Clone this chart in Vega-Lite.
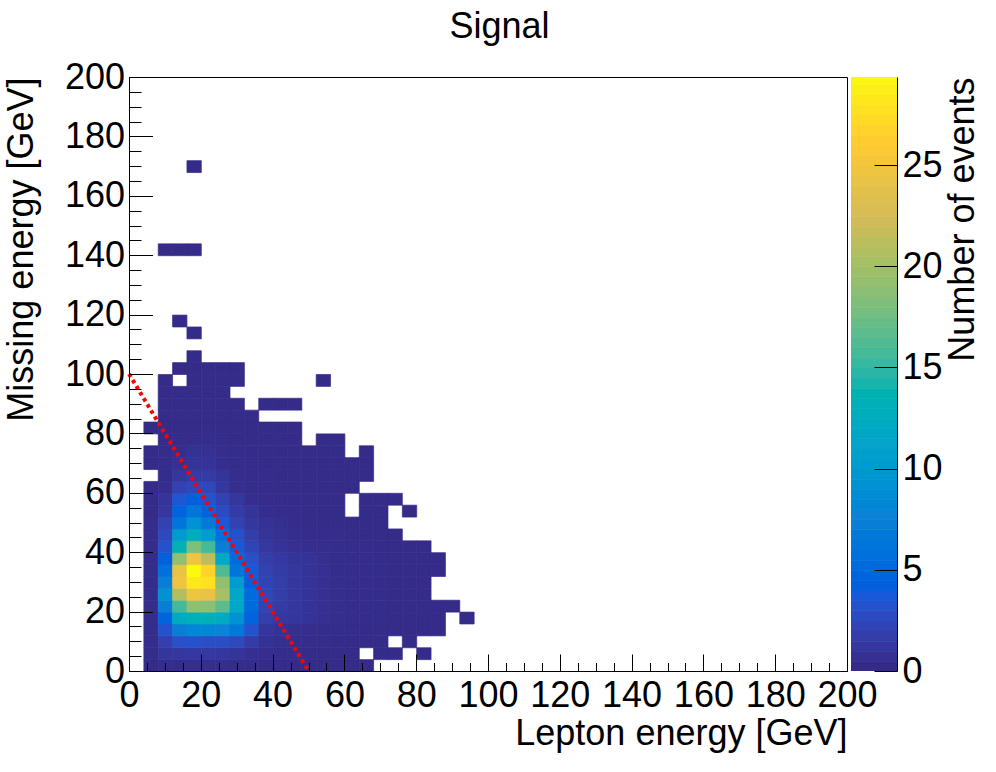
{"$schema":"https://vega.github.io/schema/vega-lite/v6.json","background":"white","padding":{"left":2,"top":8,"right":5,"bottom":5},"bounds":"flush","title":{"text":"Signal","font":"Liberation Sans","fontSize":36,"fontWeight":"normal","color":"black","anchor":"middle","dx":8,"offset":13},"config":{"view":{"stroke":null},"axis":{"labelFont":"Liberation Sans","titleFont":"Liberation Sans","labelFontSize":36,"titleFontSize":36,"titleFontWeight":"normal","labelColor":"black","titleColor":"black","domainColor":"black","tickColor":"black","grid":false,"labelOverlap":false,"labelBound":false,"labelFlush":false}},"spacing":4,"hconcat":[{"width":718,"height":594,"view":{"stroke":"black","strokeWidth":1},"layer":[{"data":{"values":[
{"x":4,"y":0,"n":0.1},{"x":8,"y":0,"n":0.2},{"x":12,"y":0,"n":0.2},{"x":16,"y":0,"n":0.3},{"x":20,"y":0,"n":0.3},{"x":24,"y":0,"n":0.3},{"x":28,"y":0,"n":0.2},{"x":32,"y":0,"n":0.2},{"x":36,"y":0,"n":0.1},{"x":40,"y":0,"n":0.1},{"x":44,"y":0,"n":0.1},{"x":48,"y":0,"n":0.1},{"x":52,"y":0,"n":0.1},{"x":56,"y":0,"n":0.1},{"x":60,"y":0,"n":0.1},{"x":64,"y":0,"n":0.1},
{"x":4,"y":4,"n":0.2},{"x":8,"y":4,"n":0.9},{"x":12,"y":4,"n":1},{"x":16,"y":4,"n":1.1},{"x":20,"y":4,"n":1.1},{"x":24,"y":4,"n":1},{"x":28,"y":4,"n":0.8},{"x":32,"y":4,"n":0.4},{"x":36,"y":4,"n":0.3},{"x":40,"y":4,"n":0.2},{"x":44,"y":4,"n":0.2},{"x":48,"y":4,"n":0.1},{"x":52,"y":4,"n":0.1},{"x":56,"y":4,"n":0.1},{"x":60,"y":4,"n":0.1},{"x":68,"y":4,"n":0.1},{"x":72,"y":4,"n":0.1},{"x":80,"y":4,"n":0.1},
{"x":4,"y":8,"n":0.2},{"x":8,"y":8,"n":1.6},{"x":12,"y":8,"n":2.8},{"x":16,"y":8,"n":3},{"x":20,"y":8,"n":2.7},{"x":24,"y":8,"n":2.7},{"x":28,"y":8,"n":2.3},{"x":32,"y":8,"n":1.3},{"x":36,"y":8,"n":0.6},{"x":40,"y":8,"n":0.4},{"x":44,"y":8,"n":0.3},{"x":48,"y":8,"n":0.2},{"x":52,"y":8,"n":0.2},{"x":56,"y":8,"n":0.1},{"x":60,"y":8,"n":0.1},{"x":64,"y":8,"n":0.1},{"x":68,"y":8,"n":0.1},{"x":76,"y":8,"n":0.1},
{"x":4,"y":12,"n":0.2},{"x":8,"y":12,"n":3},{"x":12,"y":12,"n":7},{"x":16,"y":12,"n":8},{"x":20,"y":12,"n":8},{"x":24,"y":12,"n":7.5},{"x":28,"y":12,"n":6.5},{"x":32,"y":12,"n":3},{"x":36,"y":12,"n":0.9},{"x":40,"y":12,"n":0.6},{"x":44,"y":12,"n":0.4},{"x":48,"y":12,"n":0.3},{"x":52,"y":12,"n":0.2},{"x":56,"y":12,"n":0.2},{"x":60,"y":12,"n":0.2},{"x":64,"y":12,"n":0.1},{"x":68,"y":12,"n":0.1},{"x":72,"y":12,"n":0.1},{"x":76,"y":12,"n":0.1},{"x":80,"y":12,"n":0.1},{"x":84,"y":12,"n":0.1},
{"x":4,"y":16,"n":0.2},{"x":8,"y":16,"n":4.5},{"x":12,"y":16,"n":12},{"x":16,"y":16,"n":13},{"x":20,"y":16,"n":13},{"x":24,"y":16,"n":12},{"x":28,"y":16,"n":9},{"x":32,"y":16,"n":4.5},{"x":36,"y":16,"n":1.6},{"x":40,"y":16,"n":1.1},{"x":44,"y":16,"n":0.9},{"x":48,"y":16,"n":0.7},{"x":52,"y":16,"n":0.5},{"x":56,"y":16,"n":0.3},{"x":60,"y":16,"n":0.2},{"x":64,"y":16,"n":0.2},{"x":68,"y":16,"n":0.2},{"x":72,"y":16,"n":0.1},{"x":76,"y":16,"n":0.1},{"x":80,"y":16,"n":0.1},{"x":84,"y":16,"n":0.1},{"x":92,"y":16,"n":0.1},
{"x":4,"y":20,"n":0.2},{"x":8,"y":20,"n":7},{"x":12,"y":20,"n":15.5},{"x":16,"y":20,"n":18.8},{"x":20,"y":20,"n":18.5},{"x":24,"y":20,"n":16.5},{"x":28,"y":20,"n":11.5},{"x":32,"y":20,"n":5},{"x":36,"y":20,"n":2},{"x":40,"y":20,"n":1.3},{"x":44,"y":20,"n":1},{"x":48,"y":20,"n":0.7},{"x":52,"y":20,"n":0.5},{"x":56,"y":20,"n":0.3},{"x":60,"y":20,"n":0.2},{"x":64,"y":20,"n":0.2},{"x":68,"y":20,"n":0.2},{"x":72,"y":20,"n":0.1},{"x":76,"y":20,"n":0.1},{"x":80,"y":20,"n":0.1},{"x":84,"y":20,"n":0.1},{"x":88,"y":20,"n":0.1},
{"x":4,"y":24,"n":0.2},{"x":8,"y":24,"n":9},{"x":12,"y":24,"n":20.5},{"x":16,"y":24,"n":24.5},{"x":20,"y":24,"n":24},{"x":24,"y":24,"n":20},{"x":28,"y":24,"n":11.5},{"x":32,"y":24,"n":5},{"x":36,"y":24,"n":2.2},{"x":40,"y":24,"n":1.5},{"x":44,"y":24,"n":1},{"x":48,"y":24,"n":0.7},{"x":52,"y":24,"n":0.5},{"x":56,"y":24,"n":0.3},{"x":60,"y":24,"n":0.2},{"x":64,"y":24,"n":0.2},{"x":68,"y":24,"n":0.2},{"x":72,"y":24,"n":0.1},{"x":76,"y":24,"n":0.1},{"x":80,"y":24,"n":0.1},
{"x":4,"y":28,"n":0.2},{"x":8,"y":28,"n":7},{"x":12,"y":28,"n":24.5},{"x":16,"y":28,"n":28},{"x":20,"y":28,"n":27.5},{"x":24,"y":28,"n":19},{"x":28,"y":28,"n":10},{"x":32,"y":28,"n":4},{"x":36,"y":28,"n":2},{"x":40,"y":28,"n":1.5},{"x":44,"y":28,"n":1},{"x":48,"y":28,"n":0.7},{"x":52,"y":28,"n":0.5},{"x":56,"y":28,"n":0.3},{"x":60,"y":28,"n":0.2},{"x":64,"y":28,"n":0.2},{"x":68,"y":28,"n":0.2},{"x":72,"y":28,"n":0.1},{"x":76,"y":28,"n":0.1},{"x":80,"y":28,"n":0.1},
{"x":4,"y":32,"n":0.2},{"x":8,"y":32,"n":5.5},{"x":12,"y":32,"n":24},{"x":16,"y":32,"n":29.3},{"x":20,"y":32,"n":26.5},{"x":24,"y":32,"n":16},{"x":28,"y":32,"n":6},{"x":32,"y":32,"n":3.5},{"x":36,"y":32,"n":1.8},{"x":40,"y":32,"n":1.3},{"x":44,"y":32,"n":1},{"x":48,"y":32,"n":0.7},{"x":52,"y":32,"n":0.5},{"x":56,"y":32,"n":0.2},{"x":60,"y":32,"n":0.2},{"x":64,"y":32,"n":0.2},{"x":68,"y":32,"n":0.2},{"x":72,"y":32,"n":0.1},{"x":76,"y":32,"n":0.1},{"x":80,"y":32,"n":0.1},{"x":84,"y":32,"n":0.1},
{"x":4,"y":36,"n":0.2},{"x":8,"y":36,"n":4},{"x":12,"y":36,"n":19},{"x":16,"y":36,"n":24.5},{"x":20,"y":36,"n":21},{"x":24,"y":36,"n":11.5},{"x":28,"y":36,"n":5},{"x":32,"y":36,"n":2.8},{"x":36,"y":36,"n":1.5},{"x":40,"y":36,"n":1.1},{"x":44,"y":36,"n":0.8},{"x":48,"y":36,"n":0.7},{"x":52,"y":36,"n":0.4},{"x":56,"y":36,"n":0.2},{"x":60,"y":36,"n":0.2},{"x":64,"y":36,"n":0.2},{"x":68,"y":36,"n":0.2},{"x":72,"y":36,"n":0.1},{"x":76,"y":36,"n":0.1},{"x":80,"y":36,"n":0.1},{"x":84,"y":36,"n":0.1},
{"x":4,"y":40,"n":0.2},{"x":8,"y":40,"n":3},{"x":12,"y":40,"n":13.5},{"x":16,"y":40,"n":18},{"x":20,"y":40,"n":15.5},{"x":24,"y":40,"n":7},{"x":28,"y":40,"n":3.5},{"x":32,"y":40,"n":2},{"x":36,"y":40,"n":1.1},{"x":40,"y":40,"n":0.7},{"x":44,"y":40,"n":0.5},{"x":48,"y":40,"n":0.3},{"x":52,"y":40,"n":0.3},{"x":56,"y":40,"n":0.2},{"x":60,"y":40,"n":0.2},{"x":64,"y":40,"n":0.2},{"x":68,"y":40,"n":0.1},{"x":72,"y":40,"n":0.1},{"x":76,"y":40,"n":0.1},{"x":80,"y":40,"n":0.1},
{"x":4,"y":44,"n":0.2},{"x":8,"y":44,"n":2.3},{"x":12,"y":44,"n":10},{"x":16,"y":44,"n":12.5},{"x":20,"y":44,"n":10},{"x":24,"y":44,"n":5.5},{"x":28,"y":44,"n":2.8},{"x":32,"y":44,"n":1.5},{"x":36,"y":44,"n":0.8},{"x":40,"y":44,"n":0.5},{"x":44,"y":44,"n":0.3},{"x":48,"y":44,"n":0.2},{"x":52,"y":44,"n":0.2},{"x":56,"y":44,"n":0.2},{"x":60,"y":44,"n":0.1},{"x":64,"y":44,"n":0.1},{"x":68,"y":44,"n":0.1},{"x":72,"y":44,"n":0.1},
{"x":4,"y":48,"n":0.2},{"x":8,"y":48,"n":1.8},{"x":12,"y":48,"n":6},{"x":16,"y":48,"n":9},{"x":20,"y":48,"n":6.5},{"x":24,"y":48,"n":3.5},{"x":28,"y":48,"n":1.8},{"x":32,"y":48,"n":1},{"x":36,"y":48,"n":0.6},{"x":40,"y":48,"n":0.4},{"x":44,"y":48,"n":0.2},{"x":48,"y":48,"n":0.1},{"x":52,"y":48,"n":0.1},{"x":56,"y":48,"n":0.1},{"x":60,"y":48,"n":0.1},{"x":64,"y":48,"n":0.1},{"x":68,"y":48,"n":0.1},
{"x":4,"y":52,"n":0.1},{"x":8,"y":52,"n":1},{"x":12,"y":52,"n":4.5},{"x":16,"y":52,"n":6},{"x":20,"y":52,"n":4.5},{"x":24,"y":52,"n":2.5},{"x":28,"y":52,"n":1.3},{"x":32,"y":52,"n":0.8},{"x":36,"y":52,"n":0.3},{"x":40,"y":52,"n":0.2},{"x":44,"y":52,"n":0.2},{"x":48,"y":52,"n":0.1},{"x":52,"y":52,"n":0.1},{"x":56,"y":52,"n":0.1},{"x":64,"y":52,"n":0.1},{"x":68,"y":52,"n":0.1},{"x":76,"y":52,"n":0.1},
{"x":4,"y":56,"n":0.1},{"x":8,"y":56,"n":0.8},{"x":12,"y":56,"n":3.3},{"x":16,"y":56,"n":4},{"x":20,"y":56,"n":3},{"x":24,"y":56,"n":1.8},{"x":28,"y":56,"n":1},{"x":32,"y":56,"n":0.3},{"x":36,"y":56,"n":0.2},{"x":40,"y":56,"n":0.2},{"x":44,"y":56,"n":0.1},{"x":48,"y":56,"n":0.1},{"x":52,"y":56,"n":0.1},{"x":56,"y":56,"n":0.1},{"x":64,"y":56,"n":0.1},{"x":68,"y":56,"n":0.1},{"x":72,"y":56,"n":0.1},
{"x":4,"y":60,"n":0.1},{"x":8,"y":60,"n":0.3},{"x":12,"y":60,"n":1.8},{"x":16,"y":60,"n":2.2},{"x":20,"y":60,"n":2.2},{"x":24,"y":60,"n":1},{"x":28,"y":60,"n":0.4},{"x":32,"y":60,"n":0.2},{"x":36,"y":60,"n":0.2},{"x":40,"y":60,"n":0.1},{"x":44,"y":60,"n":0.1},{"x":48,"y":60,"n":0.1},{"x":52,"y":60,"n":0.1},{"x":56,"y":60,"n":0.1},{"x":60,"y":60,"n":0.1},
{"x":8,"y":64,"n":0.2},{"x":12,"y":64,"n":1},{"x":16,"y":64,"n":1.3},{"x":20,"y":64,"n":1.3},{"x":24,"y":64,"n":0.8},{"x":28,"y":64,"n":0.3},{"x":32,"y":64,"n":0.2},{"x":36,"y":64,"n":0.2},{"x":40,"y":64,"n":0.1},{"x":44,"y":64,"n":0.1},{"x":48,"y":64,"n":0.1},{"x":52,"y":64,"n":0.1},{"x":56,"y":64,"n":0.1},{"x":60,"y":64,"n":0.1},{"x":64,"y":64,"n":0.1},
{"x":4,"y":68,"n":0.1},{"x":8,"y":68,"n":0.2},{"x":12,"y":68,"n":0.5},{"x":16,"y":68,"n":0.8},{"x":20,"y":68,"n":0.7},{"x":24,"y":68,"n":0.3},{"x":28,"y":68,"n":0.2},{"x":32,"y":68,"n":0.2},{"x":36,"y":68,"n":0.1},{"x":40,"y":68,"n":0.1},{"x":44,"y":68,"n":0.1},{"x":48,"y":68,"n":0.1},{"x":52,"y":68,"n":0.1},{"x":56,"y":68,"n":0.1},{"x":60,"y":68,"n":0.1},{"x":64,"y":68,"n":0.1},
{"x":4,"y":72,"n":0.1},{"x":8,"y":72,"n":0.2},{"x":12,"y":72,"n":0.3},{"x":16,"y":72,"n":0.6},{"x":20,"y":72,"n":0.5},{"x":24,"y":72,"n":0.3},{"x":28,"y":72,"n":0.2},{"x":32,"y":72,"n":0.1},{"x":36,"y":72,"n":0.1},{"x":40,"y":72,"n":0.1},{"x":44,"y":72,"n":0.1},{"x":48,"y":72,"n":0.1},{"x":52,"y":72,"n":0.1},{"x":56,"y":72,"n":0.1},{"x":64,"y":72,"n":0.1},
{"x":8,"y":76,"n":0.1},{"x":12,"y":76,"n":0.2},{"x":16,"y":76,"n":0.2},{"x":20,"y":76,"n":0.2},{"x":24,"y":76,"n":0.2},{"x":28,"y":76,"n":0.1},{"x":32,"y":76,"n":0.1},{"x":36,"y":76,"n":0.1},{"x":40,"y":76,"n":0.1},{"x":44,"y":76,"n":0.1},{"x":52,"y":76,"n":0.1},{"x":56,"y":76,"n":0.1},
{"x":4,"y":80,"n":0.1},{"x":8,"y":80,"n":0.1},{"x":12,"y":80,"n":0.1},{"x":16,"y":80,"n":0.1},{"x":20,"y":80,"n":0.1},{"x":24,"y":80,"n":0.1},{"x":28,"y":80,"n":0.1},{"x":32,"y":80,"n":0.1},{"x":36,"y":80,"n":0.1},{"x":40,"y":80,"n":0.1},{"x":44,"y":80,"n":0.1},
{"x":8,"y":84,"n":0.1},{"x":12,"y":84,"n":0.1},{"x":16,"y":84,"n":0.1},{"x":20,"y":84,"n":0.1},{"x":24,"y":84,"n":0.1},{"x":28,"y":84,"n":0.1},{"x":32,"y":84,"n":0.1},
{"x":8,"y":88,"n":0.1},{"x":12,"y":88,"n":0.1},{"x":16,"y":88,"n":0.1},{"x":20,"y":88,"n":0.1},{"x":24,"y":88,"n":0.1},{"x":28,"y":88,"n":0.1},{"x":36,"y":88,"n":0.1},{"x":40,"y":88,"n":0.1},{"x":44,"y":88,"n":0.1},
{"x":8,"y":92,"n":0.1},{"x":12,"y":92,"n":0.1},{"x":16,"y":92,"n":0.1},{"x":20,"y":92,"n":0.1},{"x":24,"y":92,"n":0.1},
{"x":8,"y":96,"n":0.1},{"x":16,"y":96,"n":0.1},{"x":20,"y":96,"n":0.1},{"x":24,"y":96,"n":0.1},{"x":28,"y":96,"n":0.1},{"x":52,"y":96,"n":0.1},
{"x":12,"y":100,"n":0.1},{"x":16,"y":100,"n":0.1},{"x":20,"y":100,"n":0.1},{"x":24,"y":100,"n":0.1},{"x":28,"y":100,"n":0.1},
{"x":16,"y":104,"n":0.1},{"x":16,"y":112,"n":0.1},{"x":12,"y":116,"n":0.1},{"x":8,"y":140,"n":0.1},{"x":12,"y":140,"n":0.1},{"x":16,"y":140,"n":0.1},{"x":16,"y":168,"n":0.1}
]},"mark":{"type":"rect","binSpacing":0,"strokeWidth":0.7},"encoding":{"x":{"field":"x","type":"quantitative","bin":{"step":4,"extent":[0,200]},"scale":{"domain":[0,200],"nice":false,"zero":false},"axis":{"title":"Lepton energy [GeV]","titleAnchor":"end","titlePadding":-5,"values":[0,5,10,15,20,25,30,35,40,45,50,55,60,65,70,75,80,85,90,95,100,105,110,115,120,125,130,135,140,145,150,155,160,165,170,175,180,185,190,195,200],"labelExpr":"datum.value%20===0?datum.value:''","labelAngle":0,"labelPadding":24,"tickSize":{"condition":{"test":"datum.value%20===0","value":-17},"value":-8.5}}},"y":{"field":"y","type":"quantitative","bin":{"step":4,"extent":[0,200]},"scale":{"domain":[0,200],"nice":false,"zero":false},"axis":{"title":"Missing energy [GeV]","titleAnchor":"end","titlePadding":24,"values":[0,5,10,15,20,25,30,35,40,45,50,55,60,65,70,75,80,85,90,95,100,105,110,115,120,125,130,135,140,145,150,155,160,165,170,175,180,185,190,195,200],"labelExpr":"datum.value%20===0?datum.value:''","labelPadding":28,"tickSize":{"condition":{"test":"datum.value%20===0","value":-23.5},"value":-12}}},"color":{"field":"n","type":"quantitative","legend":null,"scale":{"domain":[0,3.66,7.33,11,14.67,18.33,22,25.67,29.35],"range":["#352A87","#0F5CDD","#1481D6","#06A4CA","#2EB7A4","#87BF77","#D1BB59","#FEC832","#F9FB0E"]}},"stroke":{"field":"n","type":"quantitative","legend":null,"scale":{"domain":[0,3.66,7.33,11,14.67,18.33,22,25.67,29.35],"range":["#352A87","#0F5CDD","#1481D6","#06A4CA","#2EB7A4","#87BF77","#D1BB59","#FEC832","#F9FB0E"]}}}},{"data":{"values":[{"ex":0,"ey":100},{"ex":50,"ey":0}]},"mark":{"type":"line","color":"#FF0000","strokeWidth":4,"strokeDash":[3.6,3.5]},"encoding":{"x":{"field":"ex","type":"quantitative"},"y":{"field":"ey","type":"quantitative"}}}]},{"width":46,"height":594,"data":{"values":[{"v":0},{"v":0.5},{"v":1},{"v":1.5},{"v":2},{"v":2.5},{"v":3},{"v":3.5},{"v":4},{"v":4.5},{"v":5},{"v":5.5},{"v":6},{"v":6.5},{"v":7},{"v":7.5},{"v":8},{"v":8.5},{"v":9},{"v":9.5},{"v":10},{"v":10.5},{"v":11},{"v":11.5},{"v":12},{"v":12.5},{"v":13},{"v":13.5},{"v":14},{"v":14.5},{"v":15},{"v":15.5},{"v":16},{"v":16.5},{"v":17},{"v":17.5},{"v":18},{"v":18.5},{"v":19},{"v":19.5},{"v":20},{"v":20.5},{"v":21},{"v":21.5},{"v":22},{"v":22.5},{"v":23},{"v":23.5},{"v":24},{"v":24.5},{"v":25},{"v":25.5},{"v":26},{"v":26.5},{"v":27},{"v":27.5},{"v":28},{"v":28.5},{"v":29}]},"mark":{"type":"rect","binSpacing":0,"clip":true,"strokeWidth":0.7},"encoding":{"y":{"field":"v","type":"quantitative","bin":{"step":0.5,"extent":[0,29.5]},"scale":{"domain":[0,29.35],"nice":false,"zero":false},"axis":{"orient":"right","title":"Number of events","titleAngle":270,"titleAnchor":"end","titlePadding":39,"values":[0,5,10,15,20,25],"format":"d","labelPadding":28,"tickSize":-23}},"color":{"field":"v","type":"quantitative","legend":null,"scale":{"domain":[0,3.66,7.33,11,14.67,18.33,22,25.67,29.35],"range":["#352A87","#0F5CDD","#1481D6","#06A4CA","#2EB7A4","#87BF77","#D1BB59","#FEC832","#F9FB0E"]}},"stroke":{"field":"v","type":"quantitative","legend":null,"scale":{"domain":[0,3.66,7.33,11,14.67,18.33,22,25.67,29.35],"range":["#352A87","#0F5CDD","#1481D6","#06A4CA","#2EB7A4","#87BF77","#D1BB59","#FEC832","#F9FB0E"]}}}}],"resolve":{"scale":{"color":"independent","stroke":"independent"}}}
